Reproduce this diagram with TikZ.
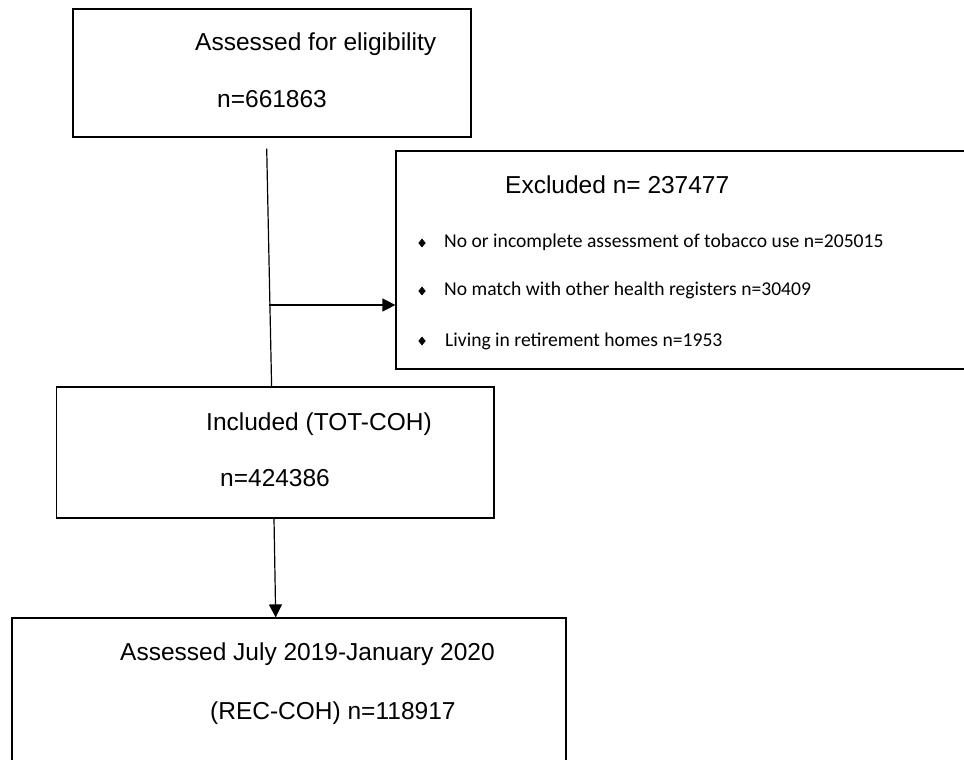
\documentclass[tikz,border=0pt]{standalone}
\usepackage{fontspec}
\setmainfont{Liberation Sans}
\newfontfamily\bulletfont{Carlito}
\usepackage{tikz}
\usetikzlibrary{arrows.meta,shapes.geometric}

\begin{document}
\begin{tikzpicture}[x=1pt,y=-1pt]
\tikzstyle{box} = [draw,line width=1.2,inner sep=0];
\tikzstyle{txt} = [font=\fontsize{24.5}{29}\selectfont,inner sep=0,anchor=base west];
\tikzstyle{item} = [font=\bulletfont\fontsize{19.6}{23}\selectfont,inner sep=0,anchor=base west];
\tikzstyle{dot} = [diamond,fill=black,inner sep=0,minimum width=7.5,minimum height=9];
\tikzstyle{line} = [line width=1.2];
\tikzstyle{arr} = [line width=1.2,-{Triangle[length=13pt,width=13pt]}];
\path[use as bounding box,clip] (0,0) rectangle (964,760);
\node [box,minimum width=398,minimum height=128] (v1) at (272,73) {};
\node [box,minimum width=604,minimum height=218] (v2) at (698,260) {};
\node [box,minimum width=437.3,minimum height=131] (v3) at (275.3,452.5) {};
\node [box,minimum width=554,minimum height=182] (v4) at (289,709) {};

\node [txt] (t1) at (195,51) {Assessed for eligibility};
\node [txt] (t2) at (217,107) {n=661863};
\node [txt] (t3) at (505,193) {Excluded n= 237477};
\node [txt] (t4) at (206,430) {Included (TOT-COH)};
\node [txt] (t5) at (220,486) {n=424386};
\node [txt] (t6) at (120,660) {Assessed July 2019-January 2020};
\node [txt] (t7) at (210,719) {(REC-COH) n=118917};

\node [dot] (d1) at (422,243) {};
\node [dot] (d2) at (422,291) {};
\node [dot] (d3) at (422,341) {};
\node [item] (i1) at (444,247) {No or incomplete assessment of tobacco use n=205015};
\node [item] (i2) at (444,295) {No match with other health registers n=30409};
\node [item] (i3) at (445,346) {Living in retirement homes n=1953};

\coordinate (c1) at (268.7,305);
\draw [line] ([xshift=-5.3,yshift=-11]v1.south) -- ([xshift=-3.7]v3.north);
\draw [arr] (c1) -- (c1 -| v2.west);
\draw [arr] ([xshift=-1.3]v3.south) -- ([xshift=-13.3]v4.north);
\end{tikzpicture}
\end{document}
